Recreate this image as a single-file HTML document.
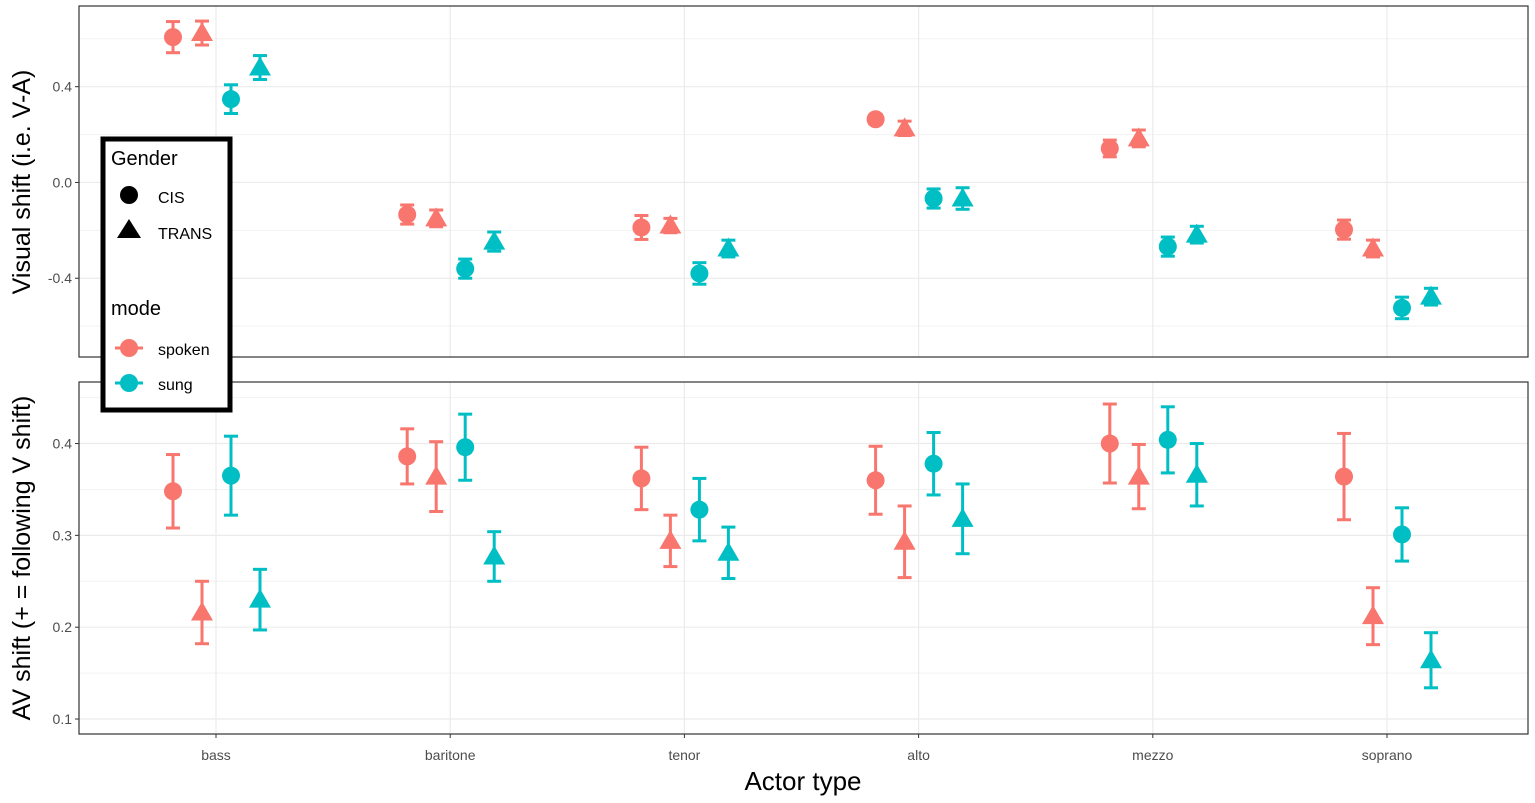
<!DOCTYPE html>
<html><head><meta charset="utf-8">
<style>
html,body{margin:0;padding:0;background:#fff;}
svg{display:block;font-family:"Liberation Sans",Arial,sans-serif;}
</style></head>
<body>
<svg id="chart" width="1535" height="803" viewBox="0 0 1535 803"></svg>
<script>
const categories=["bass","baritone","tenor","alto","mezzo","soprano"];
const topSpokenCis=[0.607,-0.134,-0.188,0.264,0.142,-0.197];
const topSpokenCisErr=[0.065,0.04,0.05,0.02,0.035,0.04];
const topSpokenTrans=[0.624,-0.15,-0.18,0.226,0.184,-0.276];
const topSpokenTransErr=[0.05,0.035,0.03,0.03,0.035,0.035];
const topSungCis=[0.348,-0.36,-0.38,-0.067,-0.268,-0.524];
const topSungCisErr=[0.06,0.04,0.045,0.04,0.04,0.045];
const topSungTrans=[0.48,-0.247,-0.276,-0.067,-0.218,-0.477];
const topSungTransErr=[0.05,0.04,0.035,0.045,0.035,0.035];
const botSpokenCis=[0.348,0.386,0.362,0.36,0.4,0.364];
const botSpokenCisErr=[0.04,0.03,0.034,0.037,0.043,0.047];
const botSpokenTrans=[0.216,0.364,0.294,0.293,0.364,0.212];
const botSpokenTransErr=[0.034,0.038,0.028,0.039,0.035,0.031];
const botSungCis=[0.365,0.396,0.328,0.378,0.404,0.301];
const botSungCisErr=[0.043,0.036,0.034,0.034,0.036,0.029];
const botSungTrans=[0.23,0.277,0.281,0.318,0.366,0.164];
const botSungTransErr=[0.033,0.027,0.028,0.038,0.034,0.03];
const topTicks=[-0.4,0.0,0.4];
const topTickLabels=["-0.4","0.0","0.4"];
const botTicks=[0.1,0.2,0.3,0.4];
const botTickLabels=["0.1","0.2","0.3","0.4"];

const NS="http://www.w3.org/2000/svg";
const svg=document.getElementById("chart");
function mk(tag,attrs,parent){const e=document.createElementNS(NS,tag);for(const k in attrs)e.setAttribute(k,attrs[k]);(parent||svg).appendChild(e);return e;}
const RED="#F8766D",CYAN="#00BFC4";
const X0=79,X1=1528;
function xScale(i,off){return 216+i*234.2+off;}
const topP={y0:6,y1:357,vTop:0.737,vBot:-0.729};
const botP={y0:382,y1:734,vTop:0.467,vBot:0.0837};
function yS(p,v){return p.y0+(p.vTop-v)/(p.vTop-p.vBot)*(p.y1-p.y0);}

function panel(p,ticks,labels,name){
  const g=mk("g",{});
  
  
  for(let i=0;i<ticks.length-1;i++){const v=(ticks[i]+ticks[i+1])/2;mk("line",{x1:X0,x2:X1,y1:yS(p,v),y2:yS(p,v),stroke:"#f2f2f2","stroke-width":1},g);}
  const step=ticks[1]-ticks[0];
  [ticks[0]-step/2,ticks[ticks.length-1]+step/2].forEach(v=>{const y=yS(p,v);if(y>p.y0&&y<p.y1)mk("line",{x1:X0,x2:X1,y1:y,y2:y,stroke:"#f2f2f2","stroke-width":1},g);});
  ticks.forEach((v,i)=>{const y=yS(p,v);
    mk("line",{x1:X0,x2:X1,y1:y,y2:y,stroke:"#ebebeb","stroke-width":1.2},g);
    mk("line",{x1:X0-4,x2:X0,y1:y,y2:y,stroke:"#333","stroke-width":1},g);
    const t=mk("text",{x:X0-7,y:y+5,"text-anchor":"end","font-size":14,fill:"#4d4d4d"},g);t.textContent=labels[i];
    
    
  });
  categories.forEach((c,i)=>{const x=xScale(i,0);mk("line",{x1:x,x2:x,y1:p.y0,y2:p.y1,stroke:"#ebebeb","stroke-width":1.2},g);});
  mk("rect",{x:X0,y:p.y0,width:X1-X0,height:p.y1-p.y0,fill:"none",stroke:"#333","stroke-width":1.2},g);
  return g;
}
const gTop=panel(topP,topTicks,topTickLabels,"top-panel");
const gBot=panel(botP,botTicks,botTickLabels,"bottom-panel");
categories.forEach((c,i)=>{const x=xScale(i,0);mk("line",{x1:x,x2:x,y1:botP.y1,y2:botP.y1+4,stroke:"#333"});
  const t=mk("text",{x:x,y:760,"text-anchor":"middle","font-size":14,fill:"#4d4d4d"});t.textContent=c;
  
  });

function series(p,vals,errs,off,color,shape,name,parent){
  vals.forEach((v,i)=>{
    const x=xScale(i,off),y=yS(p,v),yt=yS(p,v+errs[i]),yb=yS(p,v-errs[i]);
    const g=mk("g",{},parent);
    
    
    mk("line",{x1:x,x2:x,y1:yt,y2:yb,stroke:color,"stroke-width":3},g);
    mk("line",{x1:x-7,x2:x+7,y1:yt,y2:yt,stroke:color,"stroke-width":3},g);
    mk("line",{x1:x-7,x2:x+7,y1:yb,y2:yb,stroke:color,"stroke-width":3},g);
    if(shape==="c")mk("circle",{cx:x,cy:y,r:9,fill:color},g);
    else mk("polygon",{points:`${x},${y-11} ${x-11},${y+8} ${x+11},${y+8}`,fill:color},g);
  });
}
series(topP,topSpokenCis,topSpokenCisErr,-43,RED,"c","top-spoken-cis",gTop);
series(topP,topSpokenTrans,topSpokenTransErr,-14,RED,"t","top-spoken-trans",gTop);
series(topP,topSungCis,topSungCisErr,15,CYAN,"c","top-sung-cis",gTop);
series(topP,topSungTrans,topSungTransErr,44,CYAN,"t","top-sung-trans",gTop);
series(botP,botSpokenCis,botSpokenCisErr,-43,RED,"c","bottom-spoken-cis",gBot);
series(botP,botSpokenTrans,botSpokenTransErr,-14,RED,"t","bottom-spoken-trans",gBot);
series(botP,botSungCis,botSungCisErr,15,CYAN,"c","bottom-sung-cis",gBot);
series(botP,botSungTrans,botSungTransErr,44,CYAN,"t","bottom-sung-trans",gBot);
</script>
<script>
(function(){
const NS="http://www.w3.org/2000/svg";const svg=document.getElementById("chart");
function mk(tag,attrs,parent){const e=document.createElementNS(NS,tag);for(const k in attrs)e.setAttribute(k,attrs[k]);(parent||svg).appendChild(e);return e;}
let t=mk("text",{x:803,y:790,"text-anchor":"middle","font-size":26,fill:"#000"});t.textContent="Actor type";


t=mk("text",{transform:"translate(30,182) rotate(-90)","text-anchor":"middle","font-size":25,fill:"#000"});t.textContent="Visual shift (i.e. V-A)";


t=mk("text",{transform:"translate(30,558) rotate(-90)","text-anchor":"middle","font-size":25,fill:"#000"});t.textContent="AV shift (+ = following V shift)";


const lg=mk("g",{});


mk("rect",{x:103,y:139,width:127,height:271,fill:"#fff",stroke:"#000","stroke-width":5},lg);
function txt(x,y,s,size,name){const e=mk("text",{x:x,y:y,"font-size":size,fill:"#000"},lg);e.textContent=s;}
txt(111,165,"Gender",20,"legend-title-gender");
mk("circle",{cx:129,cy:195,r:9,fill:"#000"},lg);txt(158,203,"CIS",16,"legend-entry-cis");
mk("polygon",{points:"129,219 117,238 141,238",fill:"#000"},lg);txt(158,239,"TRANS",16,"legend-entry-trans");
txt(111,315,"mode",20,"legend-title-mode");
mk("line",{x1:115,x2:143,y1:348,y2:348,stroke:"#F8766D","stroke-width":3},lg);mk("circle",{cx:129,cy:348,r:9,fill:"#F8766D"},lg);txt(158,355,"spoken",16,"legend-entry-spoken");
mk("line",{x1:115,x2:143,y1:383,y2:383,stroke:"#00BFC4","stroke-width":3},lg);mk("circle",{cx:129,cy:383,r:9,fill:"#00BFC4"},lg);txt(158,390,"sung",16,"legend-entry-sung");
})();
</script>
</body></html>
